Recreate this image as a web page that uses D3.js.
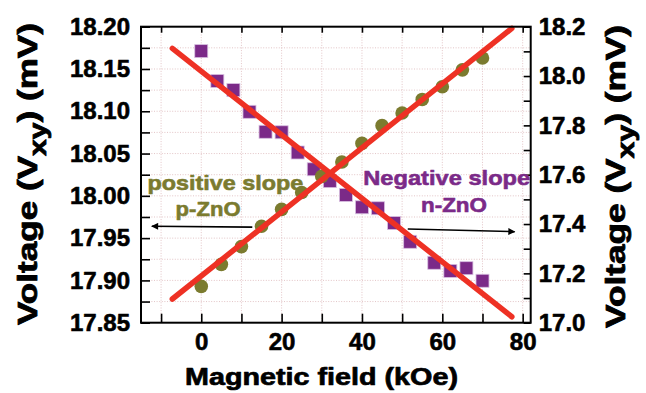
<!DOCTYPE html>
<html><head><meta charset="utf-8">
<script src="https://cdn.jsdelivr.net/npm/d3@7"></script>
<style>
html,body{margin:0;padding:0;background:#fff;}
svg{display:block;font-family:"Liberation Sans",Arial,sans-serif;font-weight:bold;}
</style></head>
<body><svg id="chart" width="646" height="393"></svg>
<script>
// ---- data ----
const pField = [0,5,10,15,20,25,30,35,40,45,50,55,60,65,70];
const pVoltage = [17.893,17.919,17.940,17.964,17.984,18.004,18.023,18.040,18.062,18.083,18.098,18.114,18.129,18.149,18.163];
const nField = [0,4,8,12,16,20,24,28,32,36,40,44,48,52,58,62,66,70];
const nVoltage = [18.101,17.980,17.943,17.855,17.774,17.772,17.690,17.622,17.574,17.518,17.468,17.464,17.404,17.328,17.243,17.210,17.221,17.170];
const pFitField = [-7.2,77.3];
const pFitVoltage = [17.878,18.198];
const nFitField = [-7.2,77.3];
const nFitVoltage = [18.112,17.024];
const xTicks = [-10,0,10,20,30,40,50,60,70,80];
const xTickLabels = ["","0","","20","","40","","60","","80"];
const leftTicks = [17.85,17.90,17.95,18.00,18.05,18.10,18.15,18.20];
const leftTickLabels = ["17.85","17.90","17.95","18.00","18.05","18.10","18.15","18.20"];
const leftMinor = [17.875,17.925,17.975,18.025,18.075,18.125,18.175];
const rightTicks = [17.0,17.1,17.2,17.3,17.4,17.5,17.6,17.7,17.8,17.9,18.0,18.1,18.2];
const rightTickLabels = ["17.0","","17.2","","17.4","","17.6","","17.8","","18.0","","18.2"];
const xLabel = "Magnetic field (kOe)";
const pText = ["positive slope","p-ZnO"];
const nText = ["Negative slope","n-ZnO"];

// ---- layout ----
const W=646,H=393;
const m={l:141,r:115.3,t:26.7,b:70.3};
const x = d3.scaleLinear().domain([-15,82]).range([m.l,W-m.r]);
const yL = d3.scaleLinear().domain([17.85,18.20]).range([H-m.b,m.t]);
const yR = d3.scaleLinear().domain([17.0,18.2]).range([H-m.b,m.t]);
const svg = d3.select("#chart");

const green="#7b7b2f", purple="#7b2a88", red="#ee3124";

function fit(sel,len){
  const n=sel.node(); const L=n.getComputedTextLength();
  return L>0? len/L:1;
}
function heavy(sel,col,w){ return sel.attr("stroke",col).attr("stroke-width",w).attr("stroke-linejoin","round").attr("paint-order","stroke"); }

// grid
const grid = svg.append("g").attr("stroke","#dcb6b9").attr("stroke-width",0.8).attr("stroke-dasharray","1,1.6");
grid.selectAll("line.v").data(xTicks).join("line")
  .attr("x1",d=>x(d)).attr("x2",d=>x(d)).attr("y1",m.t).attr("y2",H-m.b);
grid.selectAll("line.h").data(leftTicks.concat(leftMinor).filter(d=>d>17.851&&d<18.199)).join("line")
  .attr("y1",d=>yL(d)).attr("y2",d=>yL(d)).attr("x1",m.l).attr("x2",W-m.r);

// markers
svg.append("g").selectAll("rect").data(nField).join("rect")
  .attr("x",(d,i)=>x(d)-6.5).attr("y",(d,i)=>yR(nVoltage[i])-6.5)
  .attr("width",13).attr("height",13).attr("fill",purple)
  .attr("stroke","#d7bfe0").attr("stroke-width",0.8);
svg.append("g").selectAll("circle").data(pField).join("circle")
  .attr("cx",d=>x(d)).attr("cy",(d,i)=>yL(pVoltage[i])).attr("r",6.8)
  .attr("fill",green);

// fit lines
const lineL = d3.line().x(d=>x(d[0])).y(d=>yL(d[1]));
const lineR = d3.line().x(d=>x(d[0])).y(d=>yR(d[1]));
svg.append("path").attr("d",lineR(nFitField.map((f,i)=>[f,nFitVoltage[i]])))
  .attr("stroke",red).attr("stroke-width",5.5).attr("stroke-linecap","round").attr("fill","none");
svg.append("path").attr("d",lineL(pFitField.map((f,i)=>[f,pFitVoltage[i]])))
  .attr("stroke",red).attr("stroke-width",5.5).attr("stroke-linecap","round").attr("fill","none");

// axes
function style(g){ g.select(".domain").remove(); g.selectAll("line").attr("stroke","#000").attr("stroke-width",1.6);
  g.selectAll("text").attr("font-family",'"Liberation Sans",Arial,sans-serif').attr("font-weight","bold").attr("fill","#000")
   .attr("stroke","#000").attr("stroke-width",0.6).attr("stroke-linejoin","round"); }
svg.append("g").attr("transform",`translate(0,${H-m.b})`)
  .call(d3.axisBottom(x).tickValues(xTicks).tickFormat((d,i)=>xTickLabels[i]).tickSize(-9).tickPadding(10))
  .call(style).call(g=>g.selectAll("text").attr("font-size",24));
svg.append("g").attr("transform",`translate(0,${m.t})`)
  .call(d3.axisTop(x).tickValues(xTicks).tickFormat("").tickSize(-6)).call(style);
svg.append("g").attr("transform",`translate(${m.l},0)`)
  .call(d3.axisLeft(yL).tickValues(leftTicks).tickFormat((d,i)=>leftTickLabels[i]).tickSize(-9).tickPadding(11))
  .call(style).call(g=>g.selectAll("text").attr("font-size",24));
svg.append("g").attr("transform",`translate(${m.l},0)`)
  .call(d3.axisLeft(yL).tickValues(leftMinor).tickFormat("").tickSize(-9)).call(style);
svg.append("g").attr("transform",`translate(${W-m.r},0)`)
  .call(d3.axisRight(yR).tickValues(rightTicks).tickFormat((d,i)=>rightTickLabels[i]).tickSize(-7).tickPadding(8))
  .call(style).call(g=>g.selectAll("text").attr("font-size",24));

// frame
svg.append("rect").attr("x",m.l).attr("y",m.t).attr("width",W-m.r-m.l).attr("height",H-m.b-m.t)
  .attr("fill","none").attr("stroke","#000").attr("stroke-width",2);

// axis titles
const xl = svg.append("text").attr("font-size",24).attr("text-anchor","middle").text(xLabel);
heavy(xl,"#000",0.7);
xl.attr("transform",`translate(321.5,385) scale(${fit(xl,273)},1)`);

function ylab(cx,cy,len){
  const t = svg.append("text").attr("font-size",28).attr("text-anchor","middle");
  t.append("tspan").text("Voltage (V");
  t.append("tspan").attr("font-size",24).attr("dy",9).text("xy");
  t.append("tspan").attr("dy",-9).text(") (mV)");
  heavy(t,"#000",0.8);
  t.attr("transform",`translate(${cx},${cy}) rotate(-90) scale(${fit(t,len)},1)`);
}
ylab(37,174,302);
ylab(625,176.5,303);

// annotations
function ann(txt,xv,yv,len,col){
  const t = svg.append("text").attr("font-size",21).attr("fill",col).attr("text-anchor","middle").text(txt);
  heavy(t,col,0.6);
  t.attr("transform",`translate(${x(xv)},${yv}) scale(${fit(t,len)},1)`);
}
ann(pText[0],6.0,yL(18.007),156,green);
ann(pText[1],1.7,yL(17.976),65,green);
ann(nText[0],61.1,yR(17.558),167,purple);
ann(nText[1],62.9,yR(17.450),66,purple);

// arrows
const defs = svg.append("defs");
defs.append("marker").attr("id","ah").attr("viewBox","0 0 10 10").attr("refX",9).attr("refY",5)
  .attr("markerWidth",9).attr("markerHeight",7).attr("markerUnits","userSpaceOnUse").attr("orient","auto")
  .append("path").attr("d","M0,0 L10,5 L0,10 Z").attr("fill","#000");
svg.append("line").attr("x1",x(12.7)).attr("y1",yL(17.963)).attr("x2",x(-12.3)).attr("y2",yL(17.964))
  .attr("stroke","#000").attr("stroke-width",1.6).attr("marker-end","url(#ah)");
svg.append("line").attr("x1",x(51.4)).attr("y1",yR(17.380)).attr("x2",x(78.0)).attr("y2",yR(17.369))
  .attr("stroke","#000").attr("stroke-width",1.6).attr("marker-end","url(#ah)");
</script></body></html>
